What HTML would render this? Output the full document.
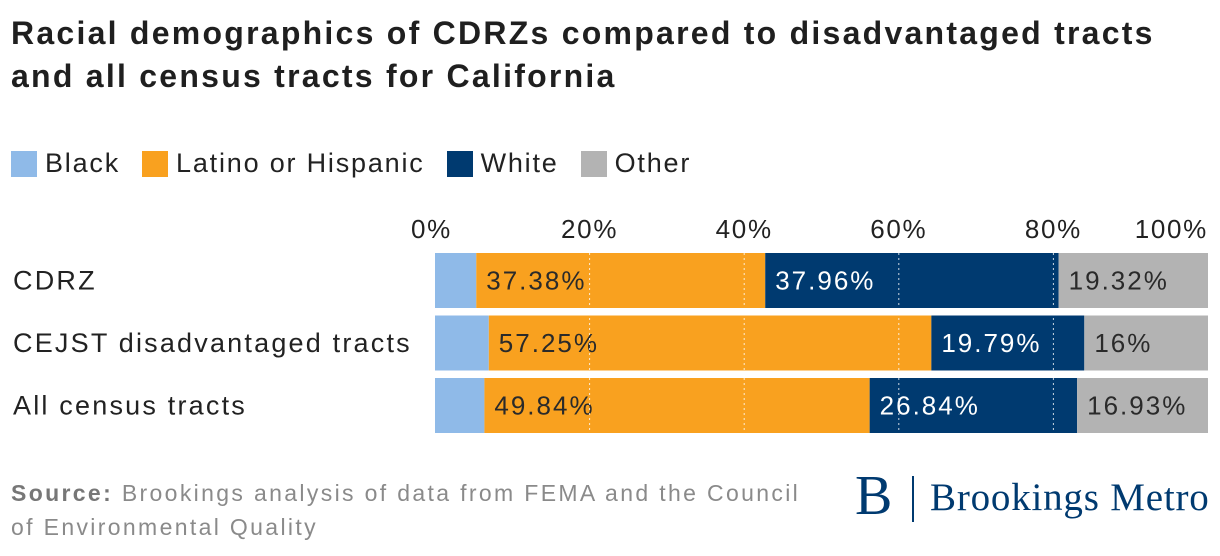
<!DOCTYPE html>
<html><head><meta charset="utf-8"><style>
body{margin:0;width:1220px;height:556px;background:#fff;font-family:"Liberation Sans",sans-serif;overflow:hidden;position:relative;color:#222}
.title{position:absolute;left:11px;top:12px;font-size:32px;letter-spacing:2.25px;font-weight:bold;line-height:43px;color:#1f1f1f;white-space:nowrap}
.legend{position:absolute;left:11px;top:148px;font-size:27px;letter-spacing:1.8px;display:flex;align-items:center;color:#222}
.legend span.sw{display:inline-block;width:26px;height:26px;margin-right:8px}
.legend .it{display:flex;align-items:center;margin-right:22px}
.src{position:absolute;left:11px;top:476px;font-size:23px;letter-spacing:2.35px;color:#8a8a8a;line-height:34px;white-space:nowrap}
.logo{position:absolute;left:855px;top:472px;font-family:"Liberation Serif",serif;color:#003a70}
</style></head><body>
<div class="title">Racial demographics of CDRZs compared to disadvantaged tracts<br>and all census tracts for California</div>
<div class="legend">
<div class="it"><span class="sw" style="background:#8fbae8"></span>Black</div>
<div class="it"><span class="sw" style="background:#f9a11f"></span>Latino or Hispanic</div>
<div class="it"><span class="sw" style="background:#003a70"></span>White</div>
<div class="it"><span class="sw" style="background:#b3b3b3"></span>Other</div>
</div>
<svg id="chart" width="1220" height="556" style="position:absolute;left:0;top:0"></svg>
<div class="src"><b style="color:#777">Source:</b> Brookings analysis of data from FEMA and the Council<br>of Environmental Quality</div>
<div class="logo"><span style="font-size:56px;position:absolute;left:0;top:-8px">B</span><span style="position:absolute;left:57px;top:4px;width:2px;height:46px;background:#003a70"></span><span style="position:absolute;left:75px;top:3px;font-size:39px;letter-spacing:0.8px;white-space:nowrap">Brookings Metro</span></div>
<script>
const categories=["CDRZ","CEJST disadvantaged tracts","All census tracts"];
const black=[5.34,6.96,6.39];
const latino=[37.38,57.25,49.84];
const white=[37.96,19.79,26.84];
const other=[19.32,16,16.93];
const latinoLabels=["37.38%","57.25%","49.84%"];
const whiteLabels=["37.96%","19.79%","26.84%"];
const otherLabels=["19.32%","16%","16.93%"];
const ticks=[0,20,40,60,80,100];
const NS="http://www.w3.org/2000/svg";
const svg=document.getElementById('chart');
const x0=435,x1=1208;
const xs=v=>x0+(x1-x0)*v/100;
const yTop=i=>253+i*62.5, bh=55;
function mk(t,a){const e=document.createElementNS(NS,t);for(const k in a)e.setAttribute(k,a[k]);svg.appendChild(e);return e;}
ticks.forEach(t=>{
 const e=mk('text',{x:t==100?x1:(t==0?x0-24:xs(t)),y:238,'font-size':26,'letter-spacing':1.7,fill:'#222','text-anchor':t==100?'end':(t==0?'start':'middle'),'font-family':'Liberation Sans, sans-serif'});
 e.textContent=t+'%';
 
 
});
const series=[[black,'#8fbae8',null,'#222'],[latino,'#f9a11f',latinoLabels,'#2a2a2a'],[white,'#003a70',whiteLabels,'#fff'],[other,'#b3b3b3',otherLabels,'#2a2a2a']];
const names=['black','latino','white','other'];
categories.forEach((c,i)=>{
 const lb=mk('text',{x:13,y:yTop(i)+bh/2+9,'font-size':27,'letter-spacing':2.2,fill:'#222','font-family':'Liberation Sans, sans-serif'});
 lb.textContent=c;
 
 
 let acc=0;
 series.forEach((s,j)=>{
  const v=s[0][i];
  const r=mk('rect',{x:xs(acc),y:yTop(i),width:xs(acc+v)-xs(acc),height:bh,fill:s[1]});
  
  
  if(s[2]){const t=mk('text',{x:xs(acc)+10,y:yTop(i)+bh/2+9,'font-size':26,'letter-spacing':2,fill:s[3],'font-family':'Liberation Sans, sans-serif'});t.textContent=s[2][i];
   
   }
  acc+=v;
 });
});
[20,40,60,80].forEach(t=>{
 const l=mk('line',{x1:xs(t),x2:xs(t),y1:253,y2:yTop(2)+bh,stroke:'#fff','stroke-width':1,'stroke-dasharray':'2,3','opacity':0.8});
 
 
});
</script>
</body></html>
